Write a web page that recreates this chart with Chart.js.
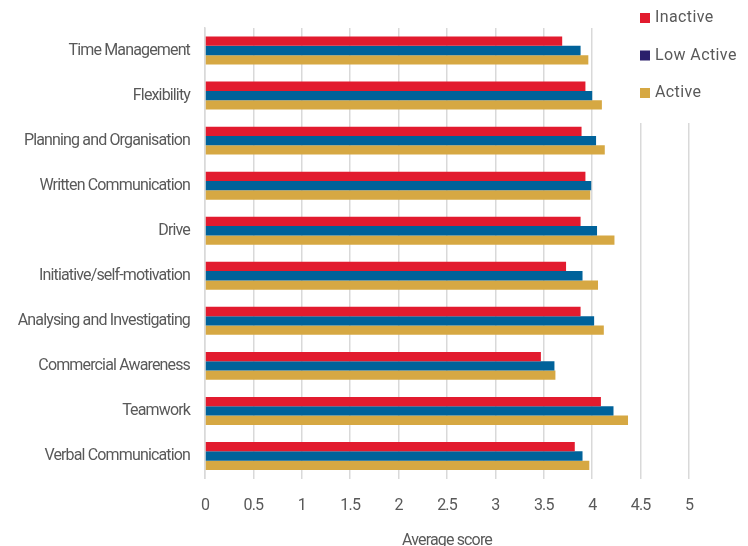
<!DOCTYPE html>
<html>
<head>
<meta charset="utf-8">
<script src="https://cdn.jsdelivr.net/npm/chart.js@4/dist/chart.umd.min.js"></script>
<style>
  html, body { margin: 0; padding: 0; background: #fff; }
  #wrap { width: 748px; height: 546px; position: relative; }
</style>
</head>
<body>
<div id="wrap"><canvas id="chart"></canvas></div>
<script>
// --- data ---
const skills = [
    'Time Management', 'Flexibility', 'Planning and Organisation', 'Written Communication',
    'Drive', 'Initiative/self-motivation', 'Analysing and Investigating',
    'Commercial Awareness', 'Teamwork', 'Verbal Communication'
];
const seriesNames = ['Inactive', 'Low Active', 'Active'];
const inactive  = [3.69, 3.93, 3.89, 3.93, 3.88, 3.73, 3.88, 3.47, 4.09, 3.82];
const lowActive = [3.88, 4.00, 4.04, 3.99, 4.05, 3.90, 4.02, 3.61, 4.22, 3.90];
const active    = [3.96, 4.10, 4.13, 3.98, 4.23, 4.06, 4.12, 3.62, 4.37, 3.97];
const xTicks = [0, 0.5, 1, 1.5, 2, 2.5, 3, 3.5, 4, 4.5, 5];

const barColors = ['#e21b2e', '#00629a', '#d6a843'];
const legendColors = ['#e21b2e', '#2a1f6b', '#d6a843'];
const FONT = 'Roboto, "Noto Sans", sans-serif';
const GREY = '#595959';
const SPACING = '-0.85px';

// the reference uses a narrow face: tighten the letters (context state is lost on resize, so set it each pass)
const tightText = {
    id: 'tightText',
    beforeLayout(chart) { chart.ctx.letterSpacing = SPACING; },
    beforeDraw(chart) { chart.ctx.letterSpacing = SPACING; }
};

// legend sits over the top-right corner of the plot, on a white patch
const cornerLegend = {
    id: 'cornerLegend',
    afterDraw(chart) {
        const ctx = chart.ctx;
        ctx.save();
        ctx.letterSpacing = '0.4px';
        ctx.fillStyle = '#fff';
        ctx.fillRect(622, 0, 126, 123);
        ctx.font = '16px ' + FONT;
        ctx.textBaseline = 'middle';
        chart.data.datasets.forEach((ds, i) => {
            const y = 18 + i * 37.5;
            ctx.fillStyle = legendColors[i];
            ctx.fillRect(640, y - 5, 10, 10);
            ctx.fillStyle = GREY;
            ctx.fillText(ds.label, 655, y);
        });
        ctx.restore();
    }
};

new Chart(document.getElementById('chart'), {
    type: 'bar',
    data: {
        labels: skills,
        datasets: [inactive, lowActive, active].map((vals, i) => ({
            label: seriesNames[i],
            data: vals,
            backgroundColor: barColors[i],
            borderWidth: 0,
            categoryPercentage: 0.62,
            barPercentage: 1
        }))
    },
    options: {
        indexAxis: 'y',
        responsive: true,
        maintainAspectRatio: false,
        animation: false,
        layout: { padding: { top: 28, right: 59, left: 0, bottom: -5 } },
        plugins: { legend: { display: false }, tooltip: { enabled: false } },
        scales: {
            x: {
                min: 0, max: 5,
                afterBuildTicks: (scale) => { scale.ticks = xTicks.map(v => ({ value: v })); },
                afterFit: (scale) => { scale.height = 72.5; },
                grid: { color: '#d9d9d9', lineWidth: 1.5, drawTicks: false },
                border: { display: false },
                ticks: {
                    color: GREY, padding: 18, font: { family: FONT, size: 16 },
                    callback: (v) => String(v)
                },
                title: {
                    display: true, text: 'Average score', color: GREY,
                    padding: 0, font: { family: FONT, size: 16 }
                }
            },
            y: {
                afterFit: (scale) => { scale.width = 205; },
                grid: { display: false },
                border: { display: true, color: '#d9d9d9', width: 1.5 },
                ticks: { color: GREY, padding: 7, font: { family: FONT, size: 16 } }
            }
        }
    },
    plugins: [tightText, cornerLegend]
});
</script>
</body>
</html>
